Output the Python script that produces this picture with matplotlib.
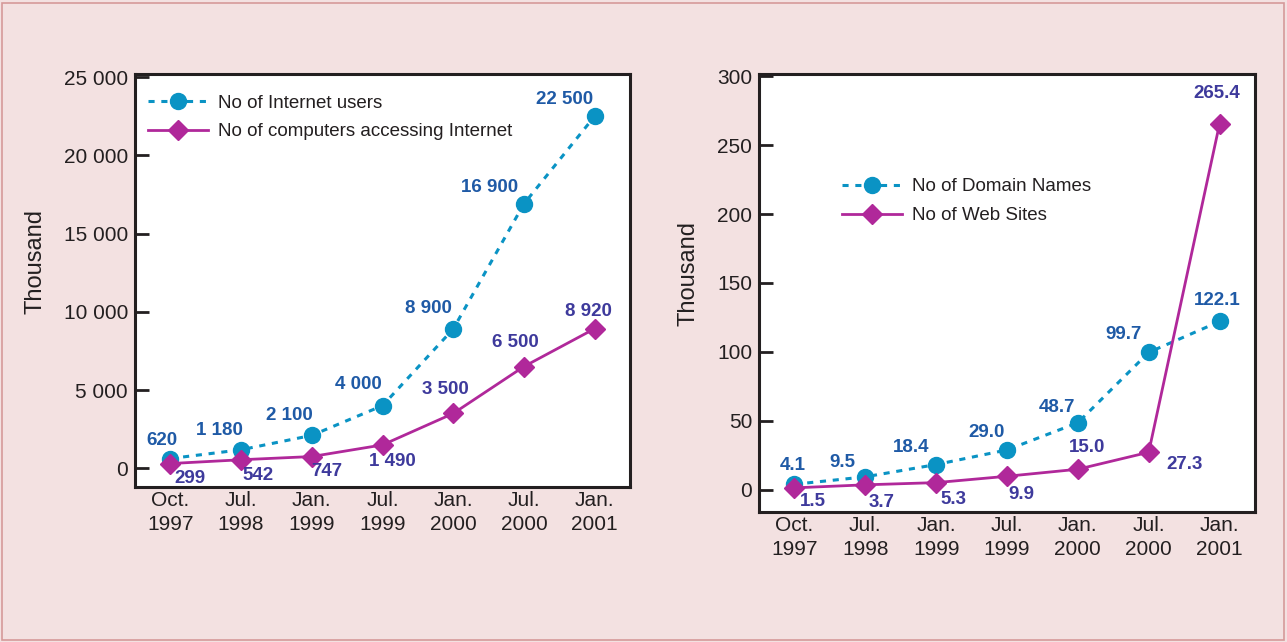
import matplotlib
matplotlib.use("Agg")
import matplotlib.pyplot as plt
from matplotlib.patches import Rectangle

plt.rcParams['font.family'] = ['Liberation Sans', 'DejaVu Sans']

categories = ["Oct.\n1997", "Jul.\n1998", "Jan.\n1999", "Jul.\n1999", "Jan.\n2000", "Jul.\n2000", "Jan.\n2001"]

internet_users = [620, 1180, 2100, 4000, 8900, 16900, 22500]
internet_users_lbl = ["620", "1 180", "2 100", "4 000", "8 900", "16 900", "22 500"]
computers = [299, 542, 747, 1490, 3500, 6500, 8920]
computers_lbl = ["299", "542", "747", "1 490", "3 500", "6 500", "8 920"]

domain_names = [4.1, 9.5, 18.4, 29.0, 48.7, 99.7, 122.1]
domain_lbl = ["4.1", "9.5", "18.4", "29.0", "48.7", "99.7", "122.1"]
web_sites = [1.5, 3.7, 5.3, 9.9, 15.0, 27.3, 265.4]
web_lbl = ["1.5", "3.7", "5.3", "9.9", "15.0", "27.3", "265.4"]

left_yticks = [0, 5000, 10000, 15000, 20000, 25000]
left_yticklabels = ["0", "5 000", "10 000", "15 000", "20 000", "25 000"]
right_yticks = [0, 50, 100, 150, 200, 250, 300]

BG = "#f3e1e1"
BLUE = "#0a93c4"
MAG = "#b0289a"
LBL_BLUE = "#1f5aa6"
LBL_PURPLE = "#3e3a9c"
INK = "#231f20"

W, H = 1287, 642
fig = plt.figure(figsize=(W / 100, H / 100), dpi=100, facecolor=BG)
fig.patches.append(Rectangle((2 / W, 2 / H), 1 - 5 / W, 1 - 5 / H, transform=fig.transFigure,
                             fill=False, edgecolor="#d59a9a", linewidth=1.2))

def px_axes(l, t, r, b):
    return fig.add_axes([l / W, 1 - b / H, (r - l) / W, (b - t) / H])

ax1 = px_axes(135, 74, 630, 487)
ax2 = px_axes(759, 74, 1255, 512)

x = list(range(len(categories)))

def style(ax):
    ax.set_facecolor("white")
    for s in ax.spines.values():
        s.set_linewidth(2.2)
        s.set_color(INK)
    ax.set_xticks(x)
    ax.set_xticklabels(categories, fontsize=15, color=INK, linespacing=1.3)
    ax.tick_params(axis='x', length=0, pad=3)
    ax.tick_params(axis='y', direction='in', length=10, width=2, labelsize=15, pad=5,
                   colors=INK)
    ax.set_xlim(-0.5, 6.5)

style(ax1)
style(ax2)

ax1.plot(x, internet_users, linestyle=(0, (2.0, 2.2)), color=BLUE, linewidth=2.2,
         marker='o', markersize=11.5, label="No of Internet users")
ax1.plot(x, computers, linestyle='-', color=MAG, linewidth=2,
         marker='D', markersize=10, label="No of computers accessing Internet")
ax1.set_ylim(-1200, 25200)
ax1.set_yticks(left_yticks)
ax1.set_yticklabels(left_yticklabels)
ax1.set_ylabel("Thousand", fontsize=17, color=INK)
ax1.yaxis.set_label_coords(-0.178, 0.545)

ax2.plot(x, domain_names, linestyle=(0, (2.0, 2.2)), color=BLUE, linewidth=2.2,
         marker='o', markersize=11.5, label="No of Domain Names")
ax2.plot(x, web_sites, linestyle='-', color=MAG, linewidth=2,
         marker='D', markersize=10, label="No of Web Sites")
ax2.set_ylim(-16, 301.5)
ax2.set_yticks(right_yticks)
ax2.set_ylabel("Thousand", fontsize=17, color=INK)
ax2.yaxis.set_label_coords(-0.12, 0.545)

def lab(ax, xi, yi, s, dx, dy, color):
    ax.annotate(s, (xi, yi), xytext=(dx, dy), textcoords='offset pixels',
                ha='center', va='center', fontsize=13.5, fontweight='bold', color=color)

u_off = [(-8, 18), (-22, 19), (-22, 20), (-24, 21), (-25, 20), (-34, 16), (-30, 17)]
c_off = [(20, -15), (17, -16), (15, -15), (10, -17), (-8, 24), (-9, 24), (-6, 17)]
for i in x:
    lab(ax1, i, internet_users[i], internet_users_lbl[i], *u_off[i], LBL_BLUE)
    lab(ax1, i, computers[i], computers_lbl[i], *c_off[i], LBL_PURPLE)

d_off = [(-2, 19), (-23, 14), (-25, 17), (-20, 17), (-21, 15), (-25, 18), (-2, 21)]
w_off = [(18, -14), (16, -18), (17, -17), (14, -18), (9, 22), (36, -12), (-3, 30)]
for i in x:
    lab(ax2, i, domain_names[i], domain_lbl[i], *d_off[i], LBL_BLUE)
    lab(ax2, i, web_sites[i], web_lbl[i], *w_off[i], LBL_PURPLE)

leg_kw = dict(frameon=False, fontsize=13.5, handlelength=3.2, handletextpad=0.55,
              labelspacing=0.62, borderaxespad=0.3, labelcolor=INK)
ax1.legend(loc='upper left', bbox_to_anchor=(0.0, 0.982), **leg_kw)
ax2.legend(loc='upper left', bbox_to_anchor=(0.14, 0.792), **leg_kw)

fig.savefig("out.png", dpi=100, facecolor=BG)
